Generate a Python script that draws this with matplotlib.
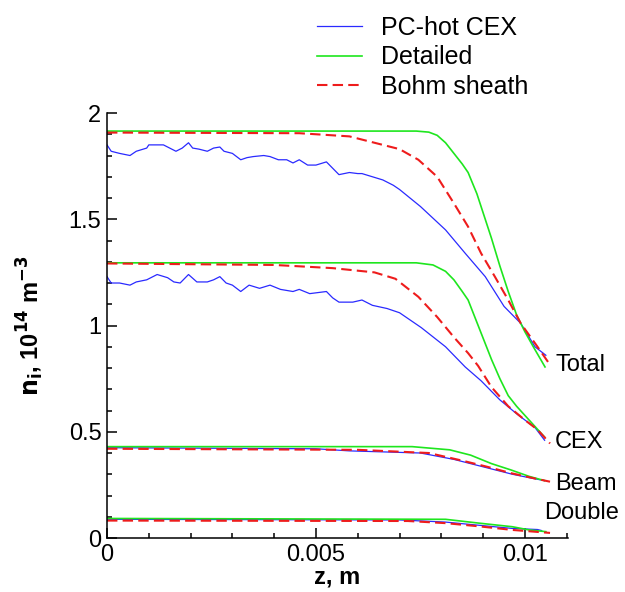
import numpy as np
import matplotlib
matplotlib.use('Agg')
import matplotlib.pyplot as plt
from matplotlib.ticker import MultipleLocator, FixedLocator

# ---- data (z in m, n_i in 1e14 m^-3) ----
# Total
z_tot_pc = [0, 0.0001, 0.0003, 0.00055, 0.0007, 0.00095, 0.001, 0.0012, 0.00135, 0.0015,
            0.00165, 0.0018, 0.00195, 0.00205, 0.0022, 0.0024, 0.00255, 0.0027, 0.0028, 0.003,
            0.0032, 0.00335, 0.0035, 0.00375, 0.0039, 0.0041, 0.0043, 0.00445, 0.0046, 0.0048,
            0.005, 0.00525, 0.0054, 0.00555, 0.0058, 0.006, 0.0061, 0.00635, 0.0066, 0.00685,
            0.007, 0.0075, 0.0081, 0.00857, 0.00905, 0.0095, 0.0099, 0.01024, 0.0105]
n_tot_pc = [1.85, 1.82, 1.81, 1.80, 1.82, 1.835, 1.85, 1.85, 1.85, 1.835,
            1.82, 1.835, 1.86, 1.835, 1.83, 1.82, 1.835, 1.84, 1.82, 1.81,
            1.78, 1.79, 1.795, 1.80, 1.795, 1.78, 1.78, 1.765, 1.78, 1.755,
            1.755, 1.77, 1.74, 1.71, 1.72, 1.715, 1.715, 1.70, 1.685, 1.66,
            1.64, 1.56, 1.45, 1.34, 1.23, 1.09, 1.01, 0.90, 0.86]
z_tot_det = [0, 0.0074, 0.0077, 0.0079, 0.0081, 0.0083, 0.0085, 0.00864, 0.00885, 0.0090,
             0.0092, 0.0094, 0.0096, 0.0098, 0.0100, 0.0102, 0.01048]
n_tot_det = [1.915, 1.915, 1.91, 1.895, 1.86, 1.81, 1.76, 1.72, 1.62, 1.53,
             1.41, 1.28, 1.16, 1.05, 0.97, 0.90, 0.805]
z_tot_bohm = [0, 0.0046, 0.0054, 0.0058, 0.0066, 0.0070, 0.00745, 0.0079, 0.0083, 0.00864,
              0.00895, 0.00928, 0.0096, 0.0099, 0.0103, 0.0106]
n_tot_bohm = [1.908, 1.905, 1.895, 1.89, 1.85, 1.83, 1.78, 1.70, 1.575, 1.465,
              1.34, 1.23, 1.12, 1.01, 0.90, 0.815]

# CEX
z_cex_pc = [0, 0.0001, 0.0003, 0.00055, 0.0007, 0.00095, 0.0011, 0.0012, 0.00145, 0.0016,
            0.00175, 0.00195, 0.00215, 0.0024, 0.00255, 0.0027, 0.00285, 0.003, 0.0032, 0.0034,
            0.00365, 0.0039, 0.00415, 0.00445, 0.0046, 0.00485, 0.00525, 0.0054, 0.00555, 0.00588,
            0.0061, 0.00635, 0.0067, 0.007, 0.00752, 0.0081, 0.00857, 0.00895, 0.0094, 0.00983,
            0.01024, 0.01047]
n_cex_pc = [1.23, 1.20, 1.20, 1.19, 1.205, 1.215, 1.23, 1.24, 1.225, 1.205,
            1.20, 1.24, 1.205, 1.205, 1.215, 1.23, 1.20, 1.19, 1.16, 1.19,
            1.175, 1.19, 1.17, 1.16, 1.17, 1.15, 1.16, 1.13, 1.11, 1.11,
            1.12, 1.095, 1.08, 1.06, 0.99, 0.90, 0.805, 0.74, 0.65, 0.58,
            0.52, 0.46]
z_cex_det = [0, 0.0074, 0.0078, 0.0081, 0.0083, 0.0085, 0.00864, 0.0088, 0.0090, 0.0092,
             0.0094, 0.0096, 0.0098, 0.0101, 0.01047]
n_cex_det = [1.295, 1.295, 1.285, 1.255, 1.215, 1.16, 1.12, 1.04, 0.94, 0.84,
             0.75, 0.67, 0.62, 0.555, 0.475]
z_cex_bohm = [0, 0.0040, 0.0054, 0.0064, 0.0069, 0.00745, 0.0079, 0.0083, 0.00864, 0.00888,
              0.0092, 0.0096, 0.0100, 0.0103, 0.0106]
n_cex_bohm = [1.292, 1.285, 1.27, 1.25, 1.22, 1.135, 1.04, 0.945, 0.87, 0.81,
              0.71, 0.62, 0.555, 0.51, 0.445]

# Beam
z_beam_pc = [0, 0.005, 0.0058, 0.0075, 0.0083, 0.0091, 0.0097, 0.0102, 0.01047]
n_beam_pc = [0.425, 0.42, 0.41, 0.40, 0.37, 0.33, 0.30, 0.28, 0.27]
z_beam_det = [0, 0.0073, 0.0082, 0.0087, 0.0092, 0.00967, 0.0101, 0.01047]
n_beam_det = [0.43, 0.43, 0.415, 0.39, 0.35, 0.32, 0.29, 0.27]
z_beam_bohm = [0, 0.006, 0.0077, 0.00848, 0.0091, 0.00967, 0.01024, 0.0106]
n_beam_bohm = [0.42, 0.415, 0.40, 0.365, 0.335, 0.305, 0.28, 0.265]

# Double
z_dbl_pc = [0, 0.007, 0.0081, 0.0089, 0.0097, 0.0103, 0.0104]
n_dbl_pc = [0.088, 0.085, 0.075, 0.06, 0.045, 0.04, 0.035]
z_dbl_det = [0, 0.0081, 0.0089, 0.0097, 0.0101, 0.0105]
n_dbl_det = [0.092, 0.088, 0.07, 0.053, 0.038, 0.03]
z_dbl_bohm = [0, 0.0072, 0.0081, 0.0089, 0.0097, 0.0106]
n_dbl_bohm = [0.082, 0.08, 0.07, 0.055, 0.038, 0.024]

species = ['Total', 'CEX', 'Beam', 'Double']
label_pos = [(0.01074, 0.815), (0.01072, 0.450), (0.01072, 0.255), (0.01045, 0.118)]

plt.rcParams['font.family'] = ['Liberation Sans', 'DejaVu Sans']

fig = plt.figure(figsize=(6.25, 5.92), dpi=100)
ax = fig.add_axes([0.1712, 0.0912, 0.7376, 0.7179])

blue, green, red = '#2a2aff', '#1ee61e', '#ee1c1c'
pc_sets = [(z_tot_pc, n_tot_pc), (z_cex_pc, n_cex_pc), (z_beam_pc, n_beam_pc), (z_dbl_pc, n_dbl_pc)]
det_sets = [(z_tot_det, n_tot_det), (z_cex_det, n_cex_det), (z_beam_det, n_beam_det), (z_dbl_det, n_dbl_det)]
bohm_sets = [(z_tot_bohm, n_tot_bohm), (z_cex_bohm, n_cex_bohm), (z_beam_bohm, n_beam_bohm), (z_dbl_bohm, n_dbl_bohm)]

for i in range(4):
    ax.plot(*pc_sets[i], color=blue, lw=0.9, label='PC-hot CEX' if i == 0 else None)
    ax.plot(*det_sets[i], color=green, lw=1.2, label='Detailed' if i == 0 else None)
    ax.plot(*bohm_sets[i], color=red, lw=1.5, dashes=(5, 2.5),
            label='Bohm sheath' if i == 0 else None)

for name, (zx, ny) in zip(species, label_pos):
    ax.text(zx, ny, name, fontsize=17, va='center', ha='left', clip_on=False)

ax.set_xlim(0, 0.01103)
ax.set_ylim(0, 2)
ax.xaxis.set_major_locator(FixedLocator([0, 0.005, 0.01]))
ax.xaxis.set_minor_locator(MultipleLocator(0.001))
ax.yaxis.set_major_locator(FixedLocator([0, 0.5, 1, 1.5, 2]))
ax.yaxis.set_minor_locator(MultipleLocator(0.1))
ax.set_xticklabels(['0', '0.005', '0.01'])
ax.set_yticklabels(['0', '0.5', '1', '1.5', '2'])
ax.tick_params(which='both', direction='in', width=1.1, labelsize=17)
ax.tick_params(which='major', length=7, pad=4)
ax.tick_params(which='minor', length=3.5)

for s in ['top', 'right']:
    ax.spines[s].set_visible(False)
for s in ['left', 'bottom']:
    ax.spines[s].set_linewidth(1.1)

ax.set_xlabel('z, m', fontsize=17, fontweight='bold', labelpad=0)
ax.set_ylabel(r'$\mathbf{n_i}$, 10$^{\mathbf{14}}$ m$^{\mathbf{-3}}$', fontsize=17,
              fontweight='bold', labelpad=16)

fig.legend(loc='upper left', bbox_to_anchor=(0.507, 0.973), frameon=False, fontsize=18,
           handlelength=1.8, handletextpad=0.78, labelspacing=0.22,
           borderpad=0, borderaxespad=0)

fig.savefig('out.png', dpi=100)
